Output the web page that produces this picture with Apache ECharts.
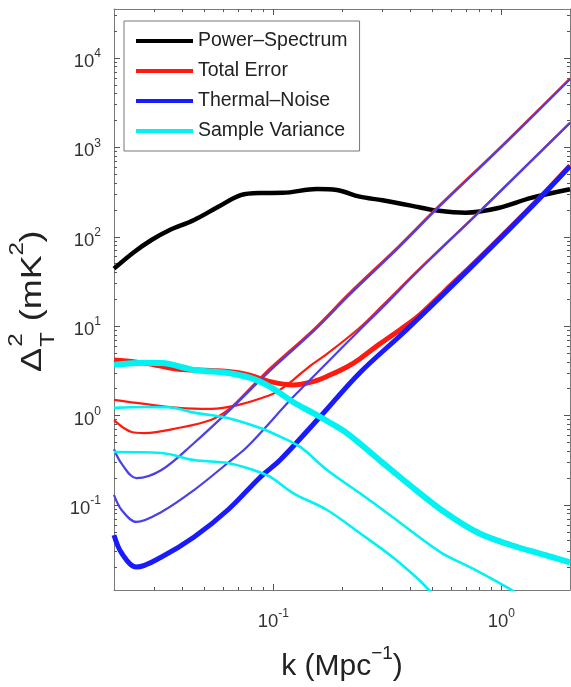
<!DOCTYPE html>
<html><head><meta charset="utf-8">
<script src="https://cdn.jsdelivr.net/npm/echarts@6/dist/echarts.min.js"></script>
<style>html,body{margin:0;padding:0;background:#fff}#c{width:571px;height:687px}</style>
</head><body><div id="c"></div>
<script>
// ---- data (k in Mpc^-1, values in mK^2) ----
const legendNames = ['Power\u2013Spectrum', 'Total Error', 'Thermal\u2013Noise', 'Sample Variance'];

const kPS = [0.02, 0.0246, 0.0292, 0.0346, 0.0449, 0.0571, 0.0719, 0.0878, 0.110, 0.155, 0.190, 0.239, 0.301, 0.436, 0.497, 0.697, 0.971, 1.35, 2.0];
const vPS = [44, 68, 92, 117, 154, 215, 292, 309, 310, 343, 334, 281, 256, 214, 200, 186, 210, 272, 340];

const kTE1 = [0.02, 0.0272, 0.0383, 0.0532, 0.0741, 0.097, 0.122, 0.149, 0.172, 0.210, 0.239, 0.292, 0.357, 0.436, 0.571, 0.818, 1.45, 2.0];
const vTE1 = [4.2, 3.87, 3.3, 3.2, 2.95, 2.4, 2.2, 2.4, 2.75, 3.5, 4.3, 6.3, 9.0, 13.2, 25.4, 61, 262, 625];
const kTE2 = [0.02, 0.0272, 0.0383, 0.0532, 0.0697, 0.097, 0.107, 0.122, 0.145, 0.172, 0.239, 0.301, 0.436, 0.818, 2.0];
const vTE2 = [1.5, 1.35, 1.22, 1.19, 1.31, 1.70, 1.95, 2.5, 3.6, 4.9, 9.6, 17.0, 43.5, 202, 1890];
const kTE3 = [0.02, 0.0239, 0.0272, 0.0383, 0.0532, 0.0631, 0.0741, 0.0852, 0.097, 0.152, 0.216, 0.357, 0.532, 0.971, 2.0];
const vTE3 = [0.89, 0.656, 0.638, 0.726, 0.893, 1.15, 1.7, 2.45, 3.4, 9.5, 23.6, 80, 222, 960, 5900];

const kTN1 = [0.02, 0.0216, 0.0251, 0.0323, 0.0449, 0.0631, 0.0878, 0.107, 0.160, 0.239, 0.383, 0.818, 1.45, 2.0];
const vTN1 = [0.046, 0.029, 0.0202, 0.0262, 0.0438, 0.0879, 0.206, 0.318, 0.964, 3.0, 9.07, 59.4, 258, 615];
const kTN2 = [0.02, 0.0216, 0.0251, 0.0323, 0.0449, 0.0631, 0.077, 0.122, 0.172, 0.239, 0.301, 0.436, 0.818, 2.0];
const vTN2 = [0.13, 0.088, 0.0646, 0.0836, 0.147, 0.295, 0.45, 1.61, 3.9, 9.07, 16.2, 42.5, 200, 1880];
const kTN3 = [0.02, 0.0216, 0.0251, 0.0323, 0.0449, 0.0631, 0.097, 0.152, 0.216, 0.357, 0.532, 0.971, 2.0];
const vTN3 = [0.42, 0.29, 0.200, 0.246, 0.494, 1.1, 3.2, 9.07, 22.5, 76.9, 215, 935, 5800];

const kSV1 = [0.02, 0.0272, 0.0323, 0.0449, 0.0631, 0.0794, 0.097, 0.122, 0.149, 0.172, 0.210, 0.292, 0.406, 0.571, 0.794, 1.10, 1.55, 2.0];
const vSV1 = [3.7, 3.9, 3.87, 3.24, 3.0, 2.64, 2.09, 1.42, 1.07, 0.87, 0.638, 0.318, 0.159, 0.0813, 0.0486, 0.0357, 0.0276, 0.0228];
const kSV2 = [0.02, 0.0272, 0.0346, 0.0449, 0.0631, 0.0878, 0.1, 0.131, 0.172, 0.239, 0.333, 0.436, 0.548, 0.771, 1.07, 1.3];
const vSV2 = [1.22, 1.25, 1.24, 1.08, 0.94, 0.726, 0.63, 0.446, 0.246, 0.136, 0.0734, 0.0438, 0.029, 0.0187, 0.0118, 0.0085];
const kSV3 = [0.02, 0.0323, 0.0449, 0.0631, 0.0818, 0.097, 0.122, 0.172, 0.239, 0.333, 0.436, 0.482, 0.55];
const vSV3 = [0.392, 0.382, 0.318, 0.295, 0.246, 0.206, 0.136, 0.0879, 0.0486, 0.0262, 0.0145, 0.0112, 0.0085];

// ---- axes ----
const xRange = [0.02, 2];
const yRange = [0.0112, 35300];
const xMajorTicks = [0.1, 1];
const yMajorTicks = [0.1, 1, 10, 100, 1000, 10000];
const mantissas = [2, 3, 4, 5, 6, 7, 8, 9];
const decades = [0.01, 0.1, 1, 10, 100, 1000, 10000];
function minorTicks(range) {
  const out = [];
  decades.forEach(d => mantissas.forEach(m => {
    const v = +(d * m).toPrecision(6);
    if (v > range[0] * 1.0001 && v < range[1] * 0.9999) out.push(v);
  }));
  return out;
}
const xMinorTicks = minorTicks(xRange);
const yMinorTicks = minorTicks(yRange);

const FONT = 'Liberation Sans';
const pair = (ks, vs) => ks.map((k, i) => [k, vs[i]]);
const expLabel = v => {
  const e = Math.round(Math.log10(v));
  return '{b|10}{s|' + e + '}';
};
const tickRich = {
  b: { fontSize: 18.5, lineHeight: 28, color: '#333', fontFamily: FONT },
  s: { fontSize: 12, lineHeight: 12, verticalAlign: 'top', color: '#333', fontFamily: FONT }
};
const lineCol = '#7a7a7a', tickCol = '#555';

function xAx(pos, major, withLabel) {
  return {
    type: 'log', min: xRange[0], max: xRange[1], position: pos,
    axisLine: { show: major, lineStyle: { color: lineCol, width: 1 } },
    axisTick: { show: true, inside: true, length: major ? 6 : 3,
      customValues: major ? xMajorTicks : xMinorTicks, lineStyle: { color: tickCol } },
    axisLabel: withLabel ? { show: true, customValues: xMajorTicks, formatter: expLabel, rich: tickRich, margin: 18 } : { show: false },
    splitLine: { show: false }, minorTick: { show: false }
  };
}
function yAx(pos, major, withLabel) {
  return {
    type: 'log', min: yRange[0], max: yRange[1], position: pos,
    axisLine: { show: major, lineStyle: { color: lineCol, width: 1 } },
    axisTick: { show: true, inside: true, length: major ? 6 : 3,
      customValues: major ? yMajorTicks : yMinorTicks, lineStyle: { color: tickCol } },
    axisLabel: withLabel ? { show: true, customValues: yMajorTicks, formatter: expLabel, rich: tickRich, margin: 13, padding: [8, 0, 0, 0] } : { show: false },
    splitLine: { show: false }, minorTick: { show: false }
  };
}
const xAxes = [xAx('bottom', true, true), xAx('bottom', false, false), xAx('top', true, false), xAx('top', false, false)];
xAxes[0].name = 'k (Mpc{s|\u22121})';
xAxes[0].nameLocation = 'middle';
xAxes[0].nameGap = 54;
xAxes[0].nameTextStyle = {
  rich: {
    m: { fontSize: 30, lineHeight: 46, color: '#222', fontFamily: FONT },
    s: { fontSize: 19, lineHeight: 19, verticalAlign: 'top', color: '#222', fontFamily: FONT }
  },
  fontSize: 30, lineHeight: 46, color: '#222', fontFamily: FONT
};
const yAxes = [yAx('left', true, true), yAx('left', false, false), yAx('right', true, false), yAx('right', false, false)];

function mk(name, ks, vs, color, width) {
  return {
    name: name, type: 'line', xAxisIndex: 0, yAxisIndex: 0,
    data: pair(ks, vs), smooth: 0.35, symbol: 'none', showSymbol: false,
    lineStyle: { color: color, width: width }, itemStyle: { color: color },
    emphasis: { disabled: true }, silent: true
  };
}
const RED = '#ff1a10', BLUE = '#1a1aff', BLUE2 = '#4a40e8', CYAN = '#00f2f2';
const series = [
  mk(legendNames[0], kPS, vPS, '#000', 4.5),
  mk(legendNames[1], kTE1, vTE1, RED, 5),
  mk(legendNames[1], kTE2, vTE2, RED, 2.2),
  mk(legendNames[1], kTE3, vTE3, RED, 2.2),
  mk(legendNames[2], kTN1, vTN1, BLUE, 5),
  mk(legendNames[2], kTN2, vTN2, BLUE2, 2.2),
  mk(legendNames[2], kTN3, vTN3, BLUE2, 2.2),
  mk(legendNames[3], kSV1, vSV1, CYAN, 6),
  mk(legendNames[3], kSV2, vSV2, CYAN, 2.6),
  mk(legendNames[3], kSV3, vSV3, CYAN, 2.6)
];

const titleColor = '#222';
const yTitle = {
  type: 'group', x: 33, y: 300, rotation: Math.PI / 2, scaleX: 1.2, silent: true,
  children: [
    { type: 'text', x: -60, y: 0, style: { text: '\u0394', fontSize: 30, fontFamily: FONT, fill: titleColor, verticalAlign: 'middle', align: 'left' } },
    { type: 'text', x: -39, y: -17, style: { text: '2', fontSize: 20, fontFamily: FONT, fill: titleColor, verticalAlign: 'middle', align: 'left' } },
    { type: 'text', x: -39, y: 15, style: { text: 'T', fontSize: 20, fontFamily: FONT, fill: titleColor, verticalAlign: 'middle', align: 'left' } },
    { type: 'text', x: -26, y: 0, style: { text: ' (mK', fontSize: 30, fontFamily: FONT, fill: titleColor, verticalAlign: 'middle', align: 'left' } },
    { type: 'text', x: 37, y: -16, style: { text: '2', fontSize: 20, fontFamily: FONT, fill: titleColor, verticalAlign: 'middle', align: 'left' } },
    { type: 'text', x: 48, y: 0, style: { text: ')', fontSize: 30, fontFamily: FONT, fill: titleColor, verticalAlign: 'middle', align: 'left' } }
  ]
};

const chart = echarts.init(document.getElementById('c'), null, { renderer: 'canvas' });
chart.setOption({
  animation: false,
  backgroundColor: '#fff',
  grid: { left: 114, top: 9, right: 1, bottom: 97, containLabel: false, outerBoundsMode: 'none' },
  xAxis: xAxes,
  yAxis: yAxes,
  legend: {
    data: legendNames, orient: 'vertical', left: 124, top: 21,
    padding: [10, 12, 10, 12], itemGap: 10, itemWidth: 57, itemHeight: 20,
    icon: 'path://M0 0H57V4H0Z', symbolKeepAspect: true,
    borderColor: '#777', borderWidth: 1, backgroundColor: '#fff',
    textStyle: { fontSize: 19.5, lineHeight: 20, color: '#222', fontFamily: FONT },
    selectedMode: false, z: 10
  },
  graphic: [yTitle],
  series: series
});
</script></body></html>
